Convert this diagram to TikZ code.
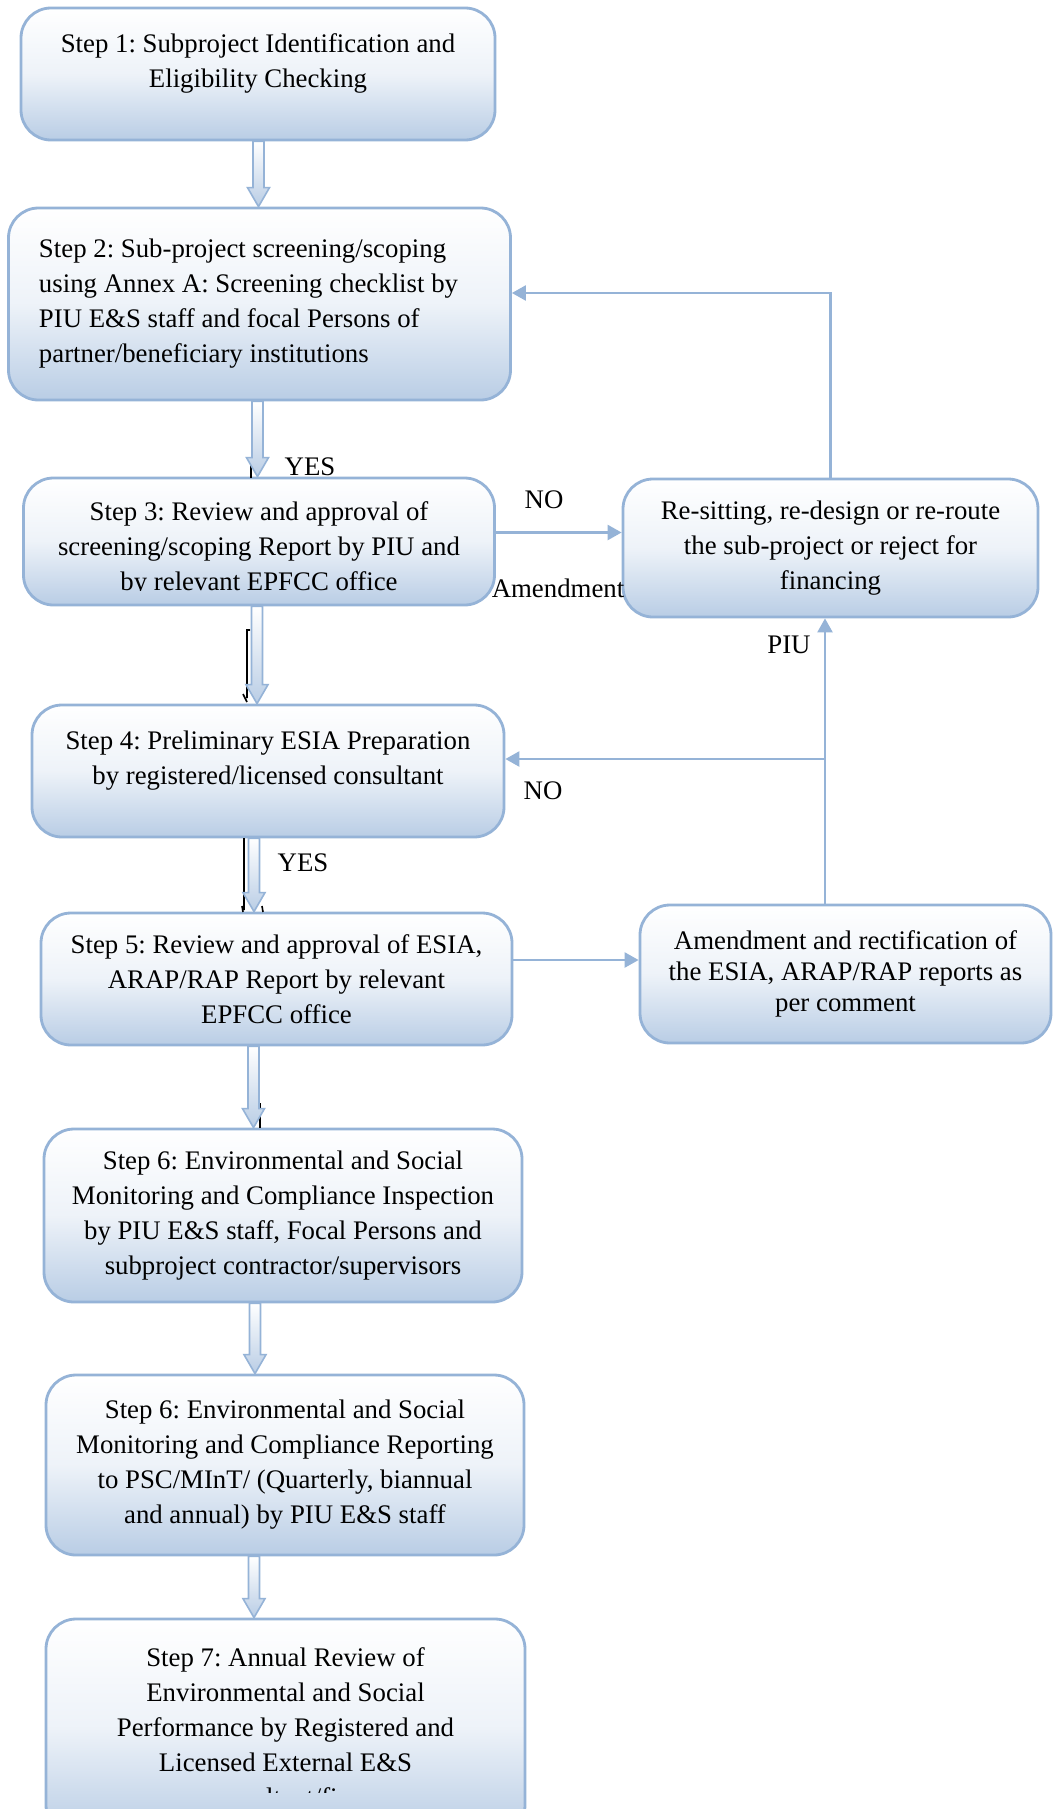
\documentclass[tikz,border=0pt]{standalone}
\usepackage{fontspec}
\setmainfont{Liberation Serif}
\frenchspacing
\usetikzlibrary{arrows.meta,calc,positioning}

\definecolor{boxline}{RGB}{149,179,215}
\definecolor{boxfoot}{RGB}{185,205,229}

\tikzset{
  stepbox/.style={rounded corners=15pt, draw=boxline, line width=1.4pt,
    top color=white, bottom color=boxfoot, middle color=boxfoot!25!white,
    align=center, inner sep=0pt, font=\fontsize{13.4}{17.5}\selectfont},
  steptext/.style={align=center, inner sep=0pt, font=\fontsize{13.4}{17.5}\selectfont},
  hollow/.style={draw=boxline, line width=0.8pt, top color=white, bottom color=boxfoot},
  link/.style={draw=boxline, line width=1.2pt, -{Triangle[length=7pt,width=7.5pt]}},
  tag/.style={inner sep=0pt, font=\fontsize{13.4}{17.5}\selectfont},
  ghost/.style={black, line width=0.8pt}
}

% block arrow from box #1 down to box #2 at x = #3
\newcommand{\hollowarrow}[3]{%
  \coordinate (ax) at (#3,0);
  \path[hollow] let \p1=(#1.south -| ax), \p2=(#2.north -| ax) in
    (\x1-2.75pt,\y1) -- (\x1-2.75pt,\y2+9.5pt) -- (\x1-5.5pt,\y2+9.5pt) -- (\x2,\y2)
    -- (\x1+5.5pt,\y2+9.5pt) -- (\x1+2.75pt,\y2+9.5pt) -- (\x1+2.75pt,\y1) -- cycle;}

\begin{document}
\begin{tikzpicture}[x=0.5pt,y=-0.5pt]
\fill[white] (0,0) rectangle (1060,1809);
\useasboundingbox (0,0) rectangle (1060,1809);

% left column
\node[stepbox, minimum width=237pt, minimum height=66pt] (s1) at (258,74)
  {Step 1: Subproject Identification and\\Eligibility Checking\\[-4pt]\mbox{}};
\node[stepbox, minimum width=251pt, minimum height=96pt, text width=220.5pt, align=flush left] (s2) at (259.5,304)
  {Step 2: Sub-project screening/scoping\\using Annex A: Screening checklist by\\PIU E\&S staff and focal Persons of\\partner/beneficiary institutions};
\node[stepbox, minimum width=235.5pt, minimum height=63.5pt] (s3) at (259,541.5) {};
\begin{scope}
  \clip (s3.north west) rectangle ([yshift=8pt]s3.south east);
  \node[steptext] (t3) at (259,549)
    {Step 3: Review and approval of\\screening/scoping Report by PIU and\\by relevant EPFCC office};
\end{scope}
\node[stepbox, minimum width=236pt, minimum height=66pt] (s4) at (268,771)
  {Step 4: Preliminary ESIA Preparation\\by registered/licensed consultant\\[-4pt]\mbox{}};
\node[stepbox, minimum width=235.5pt, minimum height=66pt] (s5) at (276.5,979)
  {Step 5: Review and approval of ESIA,\\ARAP/RAP Report by relevant\\EPFCC office};
\node[stepbox, minimum width=239pt, minimum height=86.5pt] (s6) at (283,1215.5)
  {Step 6: Environmental and Social\\Monitoring and Compliance Inspection\\by PIU E\&S staff, Focal Persons and\\subproject contractor/supervisors};
\node[stepbox, minimum width=239pt, minimum height=90pt] (s7) at (285,1465)
  {Step 6: Environmental and Social\\Monitoring and Compliance Reporting\\to PSC/MInT/ (Quarterly, biannual\\and annual) by PIU E\&S staff};
\node[stepbox, minimum width=239.5pt, minimum height=108pt] (s8) at (285.5,1727) {};
\begin{scope}
  \clip (s8.north west) rectangle (s8.east |- 0,1792);
  \node[steptext] (t8) at (285.5,1727)
    {Step 7: Annual Review of\\Environmental and Social\\Performance by Registered and\\Licensed External E\&S\\consultant/firm};
\end{scope}

% right column
\node[stepbox, minimum width=207.5pt, minimum height=69pt] (r1) at (830.5,548)
  {Re-sitting, re-design or re-route\\the sub-project or reject for\\financing};
\node[stepbox, minimum width=205.5pt, minimum height=69pt, font=\fontsize{13.4}{15.5}\selectfont] (r2) at (845.5,974)
  {Amendment and rectification of\\the ESIA, ARAP/RAP reports as\\per comment};

% stray marks behind the block arrows
\draw[ghost] (251,462) -- (251,478);
\draw[ghost] (250,630) -- (247,630) -- (247,698) (243,694) -- (247,702);
\draw[ghost] (244,838) -- (244,910) (242,906) -- (243,912) (262,906) -- (263,912);
\draw[ghost] (260,1103) -- (260,1128);

% main flow
\hollowarrow{s1}{s2}{258.5}
\hollowarrow{s2}{s3}{257.5}
\hollowarrow{s3}{s4}{257}
\hollowarrow{s4}{s5}{254}
\hollowarrow{s5}{s6}{253.5}
\hollowarrow{s6}{s7}{255}
\hollowarrow{s7}{s8}{254}

% feedback links
\coordinate (turn) at (830,293);
\coordinate (fork) at (825,759);
\draw[link] (r1.north) |- (s2.east |- turn);
\draw[link] ([yshift=4.5pt]s3.east) -- ([yshift=4.5pt]s3.east -| r1.west);
\draw[link] (fork |- r2.north) -- (fork |- r1.south);
\draw[link] (fork) -- (fork -| s4.east);
\draw[link] ([yshift=9.5pt]s5.east) -- ([yshift=9.5pt]s5.east -| r2.west);

% labels
\node[tag] (yes1) at (310,467) {YES};
\node[tag] (no1) at (544,500) {NO};
\node[tag] (amend) at (558,588) {Amendment};
\node[tag] (piu) at (789,645) {PIU};
\node[tag] (no2) at (543,791) {NO};
\node[tag] (yes2) at (303,863) {YES};
\end{tikzpicture}
\end{document}
